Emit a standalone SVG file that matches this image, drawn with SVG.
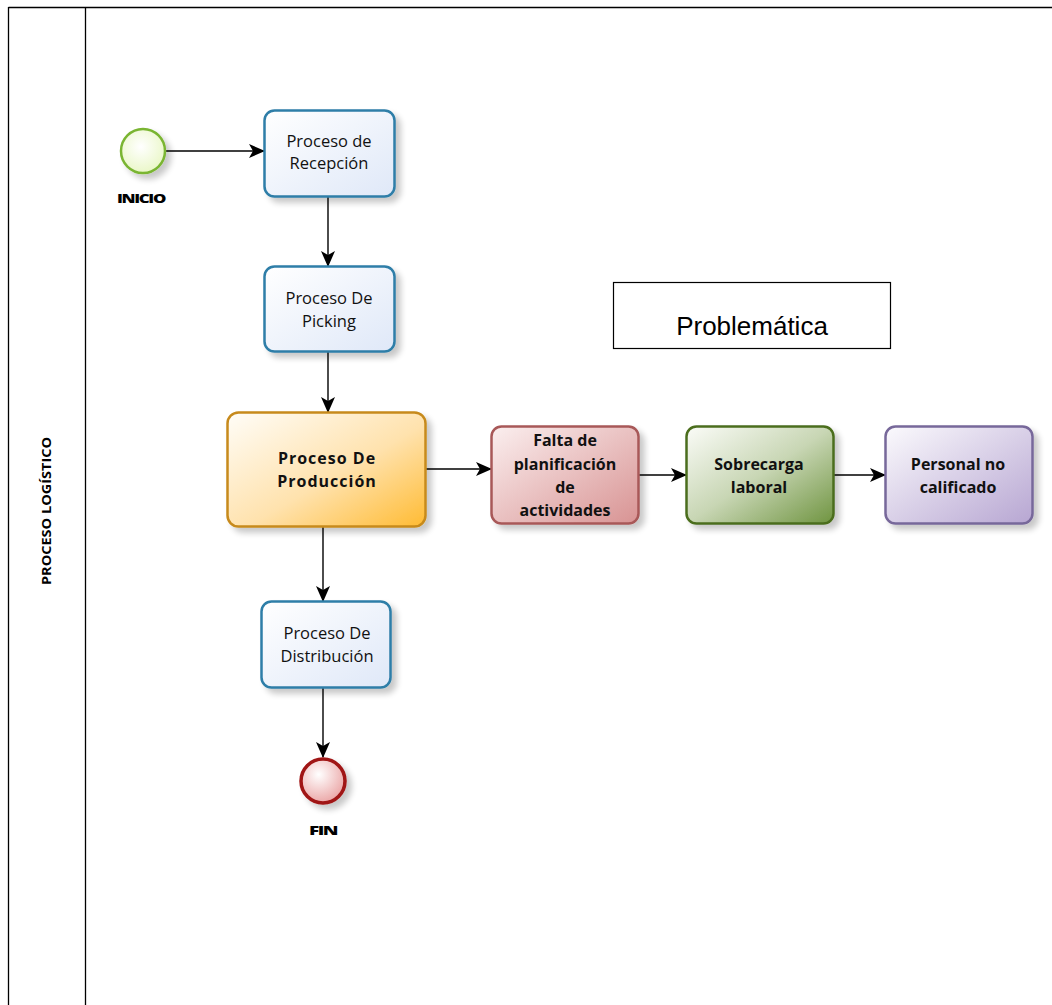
<svg xmlns="http://www.w3.org/2000/svg" width="1052" height="1005" viewBox="0 0 1052 1005">
  <style>
    .lane { fill: none; stroke: #000; stroke-width: 1.3; }
    .task { stroke-width: 2.5; }
    .blue { stroke: #2f7ea8; fill: url(#gBlue); }
    .lbl { font-family: "Open Sans", "DejaVu Sans", sans-serif; font-size: 16.5px; fill: #111; text-anchor: middle; }
    .bold { font-weight: bold; font-size: 16px; }
    .wide { letter-spacing: 1px; }
    .flow { stroke: #000; stroke-width: 1.4; fill: none; marker-end: url(#arrow); }
    .ev { font-family: "Open Sans", "DejaVu Sans", sans-serif; font-size: 12.5px; font-weight: 800; fill: #000; text-anchor: middle; letter-spacing: -1px; }
  </style>
  <defs>
    <marker id="arrow" viewBox="0 0 16 14" refX="15" refY="7" markerWidth="16" markerHeight="14" markerUnits="userSpaceOnUse" orient="auto">
      <path d="M0,0 L16,7 L0,14 L4,7 Z" fill="#000"/>
    </marker>
    <filter id="shadow" x="-20%" y="-20%" width="150%" height="150%">
      <feGaussianBlur in="SourceAlpha" stdDeviation="3"/>
      <feOffset dx="5" dy="5" result="b"/>
      <feComponentTransfer><feFuncA type="linear" slope="0.22"/></feComponentTransfer>
      <feMerge><feMergeNode/><feMergeNode in="SourceGraphic"/></feMerge>
    </filter>
    <linearGradient id="gBlue" x1="0" y1="0" x2="1" y2="1">
      <stop offset="0" stop-color="#ffffff"/>
      <stop offset="1" stop-color="#dfe8f8"/>
    </linearGradient>
    <linearGradient id="gOrange" x1="0" y1="0" x2="1" y2="1">
      <stop offset="0" stop-color="#fffdf8"/>
      <stop offset="0.55" stop-color="#ffe2ad"/>
      <stop offset="1" stop-color="#ffbb33"/>
    </linearGradient>
    <linearGradient id="gRed" x1="0" y1="0" x2="1" y2="1">
      <stop offset="0" stop-color="#fbefef"/>
      <stop offset="1" stop-color="#d89393"/>
    </linearGradient>
    <linearGradient id="gGreen" x1="0" y1="0" x2="1" y2="1">
      <stop offset="0" stop-color="#fbfcf8"/>
      <stop offset="0.5" stop-color="#c8d6b4"/>
      <stop offset="1" stop-color="#6f9440"/>
    </linearGradient>
    <linearGradient id="gPurple" x1="0" y1="0" x2="1" y2="1">
      <stop offset="0" stop-color="#fbfafd"/>
      <stop offset="1" stop-color="#b7a6d2"/>
    </linearGradient>
    <radialGradient id="gStart" cx="0.45" cy="0.4" r="0.6">
      <stop offset="0" stop-color="#ffffff"/>
      <stop offset="1" stop-color="#eaf7c8"/>
    </radialGradient>
    <radialGradient id="gEnd" cx="0.4" cy="0.35" r="0.65">
      <stop offset="0" stop-color="#ffffff"/>
      <stop offset="1" stop-color="#eba8a8"/>
    </radialGradient>
  </defs>

  <!-- pool and lane -->
  <g id="pool">
    <line class="lane" x1="8.5" y1="7.5" x2="1052" y2="7.5"/>
    <line class="lane" x1="8.5" y1="7" x2="8.5" y2="1005"/>
    <line class="lane" x1="85.5" y1="7" x2="85.5" y2="1005"/>
    <text transform="translate(51,511) rotate(-90)" font-family="Open Sans, DejaVu Sans, sans-serif" font-size="12" font-weight="bold" text-anchor="middle" fill="#000" textLength="148" lengthAdjust="spacingAndGlyphs">PROCESO LOGÍSTICO</text>
  </g>

  <!-- sequence flows -->
  <g id="connectors">
    <line class="flow" x1="166" y1="151" x2="264" y2="151"/>
    <line class="flow" x1="328" y1="197" x2="328" y2="266"/>
    <line class="flow" x1="328" y1="352" x2="328" y2="412"/>
    <line class="flow" x1="426" y1="469" x2="491" y2="469"/>
    <line class="flow" x1="639" y1="475" x2="686" y2="475"/>
    <line class="flow" x1="834" y1="475" x2="885" y2="475"/>
    <line class="flow" x1="323" y1="527" x2="323" y2="601"/>
    <line class="flow" x1="323" y1="688" x2="323" y2="757"/>
  </g>

  <g id="start" filter="url(#shadow)">
    <circle cx="143" cy="151" r="22" fill="url(#gStart)" stroke="#7ab532" stroke-width="2.5"/>
  </g>
  <text class="ev" x="141" y="203" textLength="48" lengthAdjust="spacingAndGlyphs">INICIO</text>

  <g id="recepcion" filter="url(#shadow)">
    <rect class="task blue" x="264.5" y="110.5" width="130" height="86" rx="10"/>
  </g>
  <text class="lbl" x="329" y="147">Proceso de</text>
  <text class="lbl" x="329" y="169">Recepción</text>

  <g id="picking" filter="url(#shadow)">
    <rect class="task blue" x="264.5" y="266.5" width="130" height="85" rx="10"/>
  </g>
  <text class="lbl" x="329" y="304">Proceso De</text>
  <text class="lbl" x="329" y="327">Picking</text>

  <g id="produccion" filter="url(#shadow)">
    <rect class="task" x="227.5" y="412.5" width="198" height="114" rx="11" fill="url(#gOrange)" stroke="#c78a1b"/>
  </g>
  <text class="lbl bold wide" x="327" y="464">Proceso De</text>
  <text class="lbl bold wide" x="327" y="487">Producción</text>

  <g id="distribucion" filter="url(#shadow)">
    <rect class="task blue" x="261.5" y="601.5" width="129" height="86" rx="10"/>
  </g>
  <text class="lbl" x="327" y="639">Proceso De</text>
  <text class="lbl" x="327" y="662">Distribución</text>

  <g id="fin" filter="url(#shadow)">
    <circle cx="323" cy="781" r="22" fill="url(#gEnd)" stroke="#a01313" stroke-width="3.5"/>
  </g>
  <text class="ev" x="323" y="835" textLength="28" lengthAdjust="spacingAndGlyphs">FIN</text>

  <g id="falta" filter="url(#shadow)">
    <rect class="task" x="491.5" y="426.5" width="147" height="97" rx="10" fill="url(#gRed)" stroke="#a85858"/>
  </g>
  <text class="lbl bold" x="565" y="446">Falta de</text>
  <text class="lbl bold" x="565" y="470">planificación</text>
  <text class="lbl bold" x="565" y="493">de</text>
  <text class="lbl bold" x="565" y="516">actividades</text>

  <g id="sobrecarga" filter="url(#shadow)">
    <rect class="task" x="686.5" y="426.5" width="147" height="97" rx="10" fill="url(#gGreen)" stroke="#4b6e1f"/>
  </g>
  <text class="lbl bold" x="759" y="470">Sobrecarga</text>
  <text class="lbl bold" x="759" y="493">laboral</text>

  <g id="personal" filter="url(#shadow)">
    <rect class="task" x="885.5" y="426.5" width="147" height="97" rx="10" fill="url(#gPurple)" stroke="#77689a"/>
  </g>
  <text class="lbl bold" x="958" y="470">Personal no</text>
  <text class="lbl bold" x="958" y="493">calificado</text>

  <g id="problematica">
    <rect x="613.5" y="282.5" width="277" height="66" fill="#fff" stroke="#000" stroke-width="1.2"/>
    <text x="752" y="335" font-family="Liberation Sans, Arial, sans-serif" font-size="26" text-anchor="middle" fill="#000">Problemática</text>
  </g>
</svg>
